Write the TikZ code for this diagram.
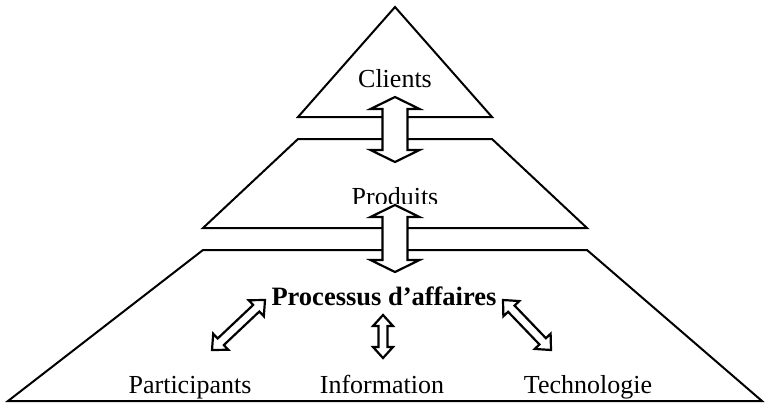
\documentclass[tikz,border=0pt]{standalone}
\usepackage{fontspec}
\setmainfont{Liberation Serif}
\tikzset{
  outline/.style={draw=black, line width=2pt, line join=miter},
  blockarrow/.style={draw=black, fill=white, line width=2.2pt, line join=miter},
  label/.style={inner sep=0pt, anchor=base, font=\fontsize{26}{30}\selectfont},
  boldlabel/.style={label, font=\fontsize{26.5}{30}\selectfont\bfseries},
}
% Double-headed block arrow from tip (#1,#2) to tip (#3,#4);
% #5 = half shaft width, #6 = half head width, #7 = head length
\newcommand{\DoubleBlockArrow}[7]{%
  \pgfmathsetmacro{\dax}{#3-#1}%
  \pgfmathsetmacro{\day}{#2-#4}%
  \pgfmathsetmacro{\daang}{atan2(\day,\dax)}%
  \pgfmathsetmacro{\dalen}{veclen(\dax,\day)}%
  \begin{scope}[shift={(#1,#2)}, x=1pt, y=1pt, rotate=\daang]
    \draw[blockarrow] (0,0) -- (#7,#6) -- (#7,#5) -- (\dalen-#7,#5)
      -- (\dalen-#7,#6) -- (\dalen,0) -- (\dalen-#7,-#6) -- (\dalen-#7,-#5)
      -- (#7,-#5) -- (#7,-#6) -- cycle;
  \end{scope}}
\begin{document}
\begin{tikzpicture}[x=1pt, y=-1pt]
  \useasboundingbox (0,0) rectangle (767,405);

  % the three levels
  \draw[outline] (395,7) -- (492,117) -- (298,117) -- cycle;
  \draw[outline] (298,139) -- (492,139) -- (587,228) -- (203,228) -- cycle;
  \draw[outline] (203,250) -- (587,250) -- (762,401) -- (8,401) -- cycle;

  % level labels
  \node[label] (clients) at (395,87) {Clients};
  \begin{scope}
    \clip (330,170) rectangle (460,203);
    \node[label] (produits) at (395,205) {Produits};
  \end{scope}
  \node[boldlabel] (processus) at (384,305) {Processus d’affaires};
  \node[label] (participants) at (190,393) {Participants};
  \node[label] (information) at (382,393) {Information};
  \node[label] (technologie) at (588,393) {Technologie};

  % links between levels
  \DoubleBlockArrow{395}{97}{395}{162}{12.5}{24.5}{12}
  \DoubleBlockArrow{395}{205}{395}{272}{12.5}{24.5}{12}

  % links inside the business-process level
  \DoubleBlockArrow{265}{300}{212}{350}{4.5}{11}{12}
  \DoubleBlockArrow{383}{315}{383}{358}{4.5}{10}{11}
  \DoubleBlockArrow{503}{300}{551}{350}{4.5}{11}{12}
\end{tikzpicture}
\end{document}
